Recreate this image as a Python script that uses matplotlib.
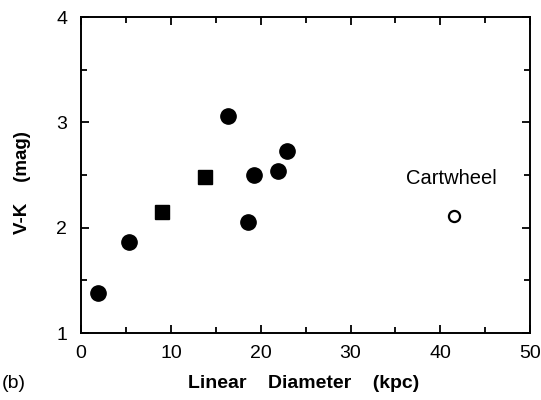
import numpy as np
import matplotlib
matplotlib.use('Agg')
import matplotlib.pyplot as plt
from matplotlib.ticker import MultipleLocator

plt.rcParams['font.family'] = ['Liberation Sans', 'DejaVu Sans']

# galaxies (filled circles), squares, and the Cartwheel (open circle)
circ_d = [1.9, 5.3, 16.3, 18.6, 19.3, 21.9, 22.9]
circ_vk = [1.38, 1.86, 3.06, 2.05, 2.50, 2.54, 2.73]
sq_d = [9.0, 13.8]
sq_vk = [2.15, 2.48]
cw_d = [41.5]
cw_vk = [2.11]
xticks = [0, 10, 20, 30, 40, 50]
yticks = [1, 2, 3, 4]

fig = plt.figure(figsize=(5.41, 4.0), dpi=100)
ax = fig.add_axes([0.150, 0.1675, 0.830, 0.790])

ax.plot(circ_d, circ_vk, 'o', color='black', ms=11, ls='none')
ax.plot(sq_d, sq_vk, 's', color='black', ms=10, ls='none')
ax.plot(cw_d, cw_vk, 'o', mfc='white', mec='black', mew=1.6, ms=8, ls='none')
ax.text(41.2, 2.47, 'Cartwheel', fontsize=14.5, ha='center', va='center')

ax.set_xlim(0, 50)
ax.set_ylim(1, 4)
ax.set_xticks(xticks)
ax.set_yticks(yticks)
ax.xaxis.set_minor_locator(MultipleLocator(5))
ax.yaxis.set_minor_locator(MultipleLocator(0.5))
ax.tick_params(which='both', direction='in', top=True, right=True, width=1.3)
ax.tick_params(which='major', length=6, labelsize=14)
ax.tick_params(axis='x', which='major', pad=9)
ax.tick_params(axis='y', which='major', pad=10)
ax.tick_params(which='minor', length=4)
for s in ax.spines.values():
    s.set_linewidth(1.4)

fig.text(0.561, 0.042, 'Linear    Diameter    (kpc)', fontsize=14,
         fontweight='bold', ha='center', va='center')
fig.text(0.041, 0.5425, 'V-K    (mag)', fontsize=13.5, fontweight='bold',
         rotation=90, ha='center', va='center')
fig.text(0.004, 0.042, '(b)', fontsize=14, va='center')

plt.savefig('out.png', dpi=100)
